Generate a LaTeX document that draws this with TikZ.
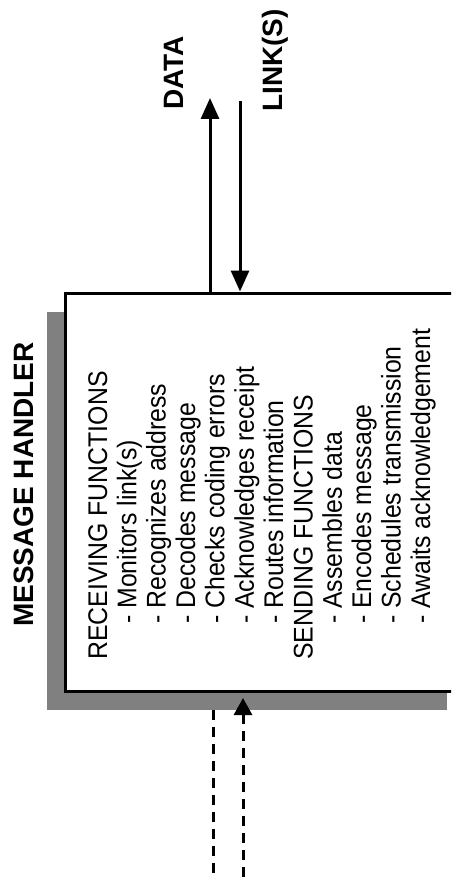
\documentclass[tikz,border=0pt]{standalone}
\usepackage{fontspec}
\setmainfont{Liberation Sans}
\newfontfamily\listfont{Liberation Sans}[FakeStretch=0.92]
\usetikzlibrary{arrows.meta,shadows}
\begin{document}
\begin{tikzpicture}[x=1pt,y=-1pt,
  heading/.style={rotate=90,anchor=base west,inner sep=0pt,
    font=\fontsize{28}{28}\selectfont\bfseries},
  entry/.style={rotate=90,anchor=base west,inner sep=0pt,
    font=\listfont\fontsize{27}{27}\selectfont},
  handler/.style={draw,line width=3pt,fill=white,inner sep=0pt,
    minimum width=400pt,minimum height=398pt,
    general shadow={fill=black!50,shadow xshift=-18pt,shadow yshift=-19pt}},
  flow/.style={line width=3pt},
  headtip/.style={-{Triangle[length=21pt,width=18pt]}},
  dashflow/.style={line width=3pt,dash pattern=on 10pt off 7pt}
]
\useasboundingbox (0,0) rectangle (451,877);
\clip (0,0) rectangle (451,877);

% the message handler box with its shadow
\node[handler] (box) at (265,492) {};

% title
\node[heading] (title) at (33,627) {MESSAGE HANDLER};

% function list
\node[entry] (r0) at (107,660) {RECEIVING FUNCTIONS};
\node[entry] (r1) at (136.4,624) {- Monitors link(s)};
\node[entry] (r2) at (165.7,624) {- Recognizes address};
\node[entry] (r3) at (195.1,624) {- Decodes message};
\node[entry] (r4) at (224.4,624) {- Checks coding errors};
\node[entry] (r5) at (253.8,624) {- Acknowledges receipt};
\node[entry] (r6) at (283.2,624) {- Routes information};
\node[entry] (s0) at (312.5,660) {SENDING FUNCTIONS};
\node[entry] (s1) at (341.9,624) {- Assembles data};
\node[entry] (s2) at (371.2,624) {- Encodes message};
\node[entry] (s3) at (400.6,624) {- Schedules transmission};
\node[entry] (s4) at (430,624) {- Awaits acknowledgement};

% outgoing data and incoming link(s)
\coordinate (dataend) at (210,98);
\coordinate (linkend) at (240,101);
\draw[flow,headtip] (dataend |- box.north) -- (dataend);
\draw[flow,headtip] (linkend) -- (linkend |- box.north);
\node[heading] (datalabel) at (183,110) {DATA};
\node[heading] (linklabel) at (282,112) {LINK(S)};

% dashed lines below the box
\coordinate (inleft) at (213,877);
\coordinate (inright) at (243,877);
\coordinate (shadowbase) at (0,710);
\coordinate (tipbase) at (0,698);
\draw[dashflow] (inleft |- shadowbase) -- (inleft);
\draw[dashflow,{Triangle[length=17pt,width=18pt]}-] (inright |- tipbase) -- (inright);
\end{tikzpicture}
\end{document}
